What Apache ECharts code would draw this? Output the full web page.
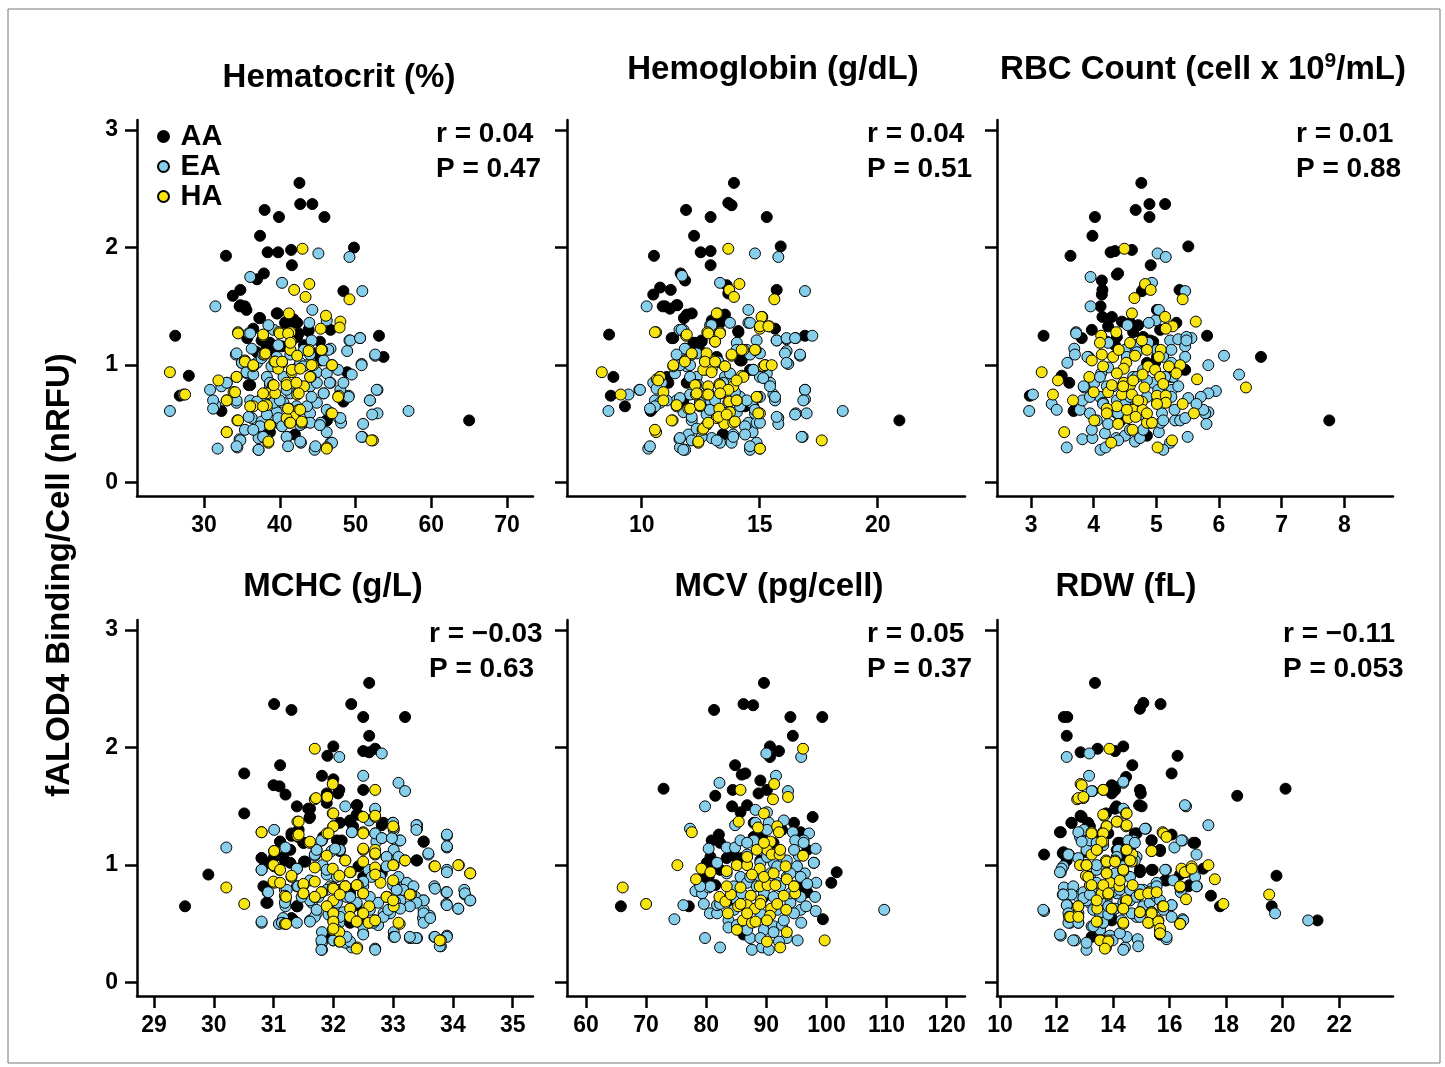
<!DOCTYPE html>
<html>
<head>
<meta charset="utf-8">
<title>fALOD4 binding vs RBC indices</title>
<script src="https://cdn.jsdelivr.net/npm/echarts@6/dist/echarts.min.js"></script>
<style>
  html, body { margin: 0; padding: 0; background: #fff; }
  #chart { width: 1445px; height: 1067px; }
</style>
</head>
<body>
<div id="chart"></div>
<script>
// y = fALOD4 binding/cell (nRFU); x = blood index, one set per panel and group

// Hematocrit (%)
var hctAA = [[42.6,2.55],[42.7,2.37],[44.3,2.37],[38.0,2.32],[39.9,2.26],[45.9,2.26],[37.4,2.10],[38.4,1.96],[39.8,1.96],[41.5,1.98],[49.8,2.00],[32.9,1.93],[41.6,1.85],[37.0,1.73],[37.9,1.78],[33.8,1.59],[34.8,1.64],[34.7,1.50],[35.4,1.50],[35.6,1.47],[48.4,1.63],[39.7,1.44],[37.3,1.40],[40.9,1.37],[41.8,1.39],[42.3,1.36],[26.2,1.25],[53.1,1.25],[53.7,1.07],[28.0,0.91],[26.8,0.74],[32.3,0.61],[65.0,0.53],[35.7,1.23],[37.6,1.21],[38.7,1.19],[39.2,1.13],[40.3,1.16],[42.3,1.24],[43.2,1.17],[43.8,1.30],[44.9,1.10],[45.4,1.04],[46.7,1.30],[48.9,0.94],[35.9,0.83],[48.4,0.69],[46.2,0.53],[42.0,0.41],[38.7,0.43],[37.0,1.11],[38.3,1.16],[40.7,1.36],
  [34.8,1.51],[37.4,1.40],[39.6,1.44],[41.6,1.37],[36.5,1.31],[38.1,1.19],[39.2,1.13],[42.5,1.27],[43.8,1.29],[45.3,1.20],[36.1,0.83],[48.4,0.70],[46.2,0.53]];
var hctEA = [[45.1,1.95],[49.2,1.92],[40.3,1.70],[36.1,1.75],[50.9,1.63],[31.5,1.50],[44.3,1.47],[43.9,1.36],[46.2,1.38],[39.2,1.30],[35.9,1.27],[49.2,1.21],[50.6,1.23],[48.9,1.12],[52.6,1.08],[50.8,1.01],[49.5,0.92],[34.2,1.09],[36.3,1.14],[44.2,1.21],[46.7,1.14],[30.8,0.79],[27.3,0.75],[25.5,0.61],[31.5,0.66],[34.3,0.68],[52.9,0.79],[51.9,0.70],[52.9,0.59],[52.2,0.58],[57.0,0.61],[51.0,0.50],[50.9,0.39],[49.1,0.74],[48.0,0.79],[47.8,0.55],[48.1,0.51],[46.2,0.43],[46.7,0.34],[44.6,0.28],[42.8,0.34],[41.0,0.39],[37.2,0.28],[31.8,0.29],[34.4,0.30],[34.7,0.37],[35.4,0.45],[37.2,0.38],[38.3,0.37],[33.0,0.85],[32.3,0.82],[31.2,0.70],[31.2,0.63],[35.7,0.93],[37.0,1.02],[38.3,0.90],[38.7,0.82],[39.2,0.99],[40.5,0.90],[41.4,0.76],[42.5,0.99],[43.4,1.00],[44.0,0.82],[44.9,0.94],[46.2,0.93],[46.7,0.85],[45.8,0.76],[44.9,0.68],[43.6,0.62],[44.0,0.59],[40.5,0.68],[39.6,0.60],[38.1,0.68],[36.3,0.55],[37.6,0.52],[39.7,0.51],[43.2,0.51],[45.4,0.51],[41.4,1.09],[39.6,1.07],[43.2,1.13],[37.6,1.06],[35.0,1.02],[36.1,0.70],
  [38.5,1.34],[36.1,1.27],[34.3,1.10],[35.0,1.02],[35.6,0.94],[36.5,0.92],[33.0,0.85],[34.3,0.70],[35.9,0.56],[37.4,0.48],[37.8,0.39],[37.2,0.28],[34.8,0.36],[34.3,0.31],[39.2,0.68],[39.8,0.55],[40.9,0.39],[42.7,0.35],[44.0,0.51],[45.3,0.49],[46.2,0.62],[48.0,0.55],[49.1,0.73],[45.8,0.76],[44.9,0.85],[46.6,0.85],[42.7,1.02],[41.4,1.13],[43.1,0.99],[44.0,1.09],[45.8,1.04],[46.4,1.13],[47.7,0.96],[48.4,0.85],[49.3,1.21],[50.6,1.23],[50.8,1.00],[52.6,1.09],[52.8,0.79],[51.9,0.70],[50.8,0.39],[38.7,0.85],[37.8,0.73],[40.0,0.70],[40.9,0.79],[42.2,0.65],[43.6,0.65],[44.2,0.73],[37.0,0.69],[38.3,0.58],[40.3,0.48],[42.7,0.49],[44.7,0.31],[46.9,0.34],[41.1,0.31],[36.5,0.45],[38.9,0.99],[37.8,1.09],[39.8,1.17]];
var hctHA = [[43.0,1.99],[43.9,1.69],[41.9,1.64],[43.4,1.58],[49.2,1.56],[41.2,1.44],[46.1,1.42],[48.0,1.37],[47.9,1.32],[45.4,1.31],[34.5,1.28],[37.8,1.25],[39.9,1.28],[41.4,1.28],[41.5,1.20],[41.4,1.13],[43.9,1.13],[45.6,1.13],[38.0,1.09],[42.3,1.08],[35.4,1.04],[36.5,0.99],[39.3,1.03],[40.3,1.02],[44.4,1.00],[46.9,1.00],[39.8,0.97],[41.6,0.94],[44.1,0.90],[25.5,0.94],[27.5,0.75],[31.9,0.87],[34.3,0.90],[33.9,0.77],[33.0,0.70],[39.1,0.83],[40.9,0.85],[42.5,0.83],[43.2,0.82],[38.3,0.76],[39.4,0.76],[42.3,0.75],[47.8,0.74],[38.3,0.66],[36.5,0.65],[41.2,0.63],[42.5,0.62],[41.8,0.56],[40.9,0.55],[46.8,0.59],[34.4,0.53],[38.7,0.49],[41.3,0.51],[42.9,0.51],[33.0,0.43],[38.5,0.34],[46.2,0.30],[52.3,0.36],
  [34.5,1.27],[37.8,1.26],[40.0,1.27],[41.1,1.27],[41.4,1.19],[43.8,1.12],[45.5,1.13],[38.1,1.10],[35.4,1.03],[36.5,1.00],[39.4,1.03],[40.3,1.03],[41.6,0.96],[42.7,0.97],[44.2,1.00],[46.9,1.00],[34.3,0.90],[39.2,0.83],[40.9,0.83],[42.2,0.85],[44.0,0.90],[34.1,0.77],[33.0,0.70],[37.8,0.76],[42.5,0.76],[36.1,0.65],[37.8,0.65],[41.1,0.63],[42.7,0.62],[34.5,0.53],[38.7,0.49],[41.4,0.51],[42.9,0.52],[46.9,0.59],[47.7,0.73],[33.0,0.43],[38.5,0.35],[46.2,0.29],[52.1,0.36]];

// Hemoglobin (g/dL)
var hgbAA = [[13.91,2.55],[13.67,2.38],[13.81,2.36],[11.88,2.32],[12.92,2.26],[15.30,2.26],[12.22,2.10],[15.89,2.01],[12.50,1.96],[12.92,1.97],[10.52,1.93],[12.92,1.85],[11.65,1.78],[11.84,1.72],[10.78,1.66],[10.49,1.60],[11.23,1.64],[10.89,1.50],[11.20,1.48],[11.51,1.51],[13.60,1.68],[13.67,1.61],[15.72,1.64],[12.12,1.44],[11.79,1.40],[15.65,1.31],[16.92,1.25],[8.62,1.26],[11.34,1.23],[8.80,0.90],[8.69,0.74],[9.29,0.65],[10.38,0.61],[20.92,0.53],[13.43,0.41],[12.19,1.19],[12.54,1.21],[13.32,1.36],[14.10,1.28],[14.24,1.04],[14.73,0.96],[13.53,0.99],[13.18,1.07],[11.91,0.85],[11.06,0.90],[15.01,1.33],[14.38,0.65],[12.97,1.38],
  [10.99,1.50],[11.48,1.51],[11.91,1.43],[13.53,1.43],[11.27,1.23],[12.26,1.19],[12.54,1.20],[12.47,1.12],[14.09,1.29],[11.98,0.86],[11.13,0.85],[10.42,0.62],[11.76,0.70],[14.59,0.96],[14.73,0.65],[13.46,0.41],[14.17,1.04]];
var hgbEA = [[14.80,1.95],[15.79,1.92],[11.71,1.76],[13.32,1.70],[16.92,1.63],[10.21,1.50],[14.52,1.47],[14.52,1.36],[12.90,1.34],[11.60,1.30],[15.72,1.21],[16.14,1.22],[16.53,1.23],[17.23,1.25],[16.14,1.12],[16.71,1.08],[16.21,1.01],[16.92,0.79],[16.92,0.71],[16.53,0.59],[16.99,0.59],[18.52,0.61],[15.79,0.55],[15.79,0.50],[16.82,0.39],[9.90,0.79],[9.44,0.75],[8.59,0.61],[10.28,0.29],[11.60,0.37],[11.62,0.30],[11.84,0.28],[11.98,0.41],[12.12,0.36],[12.97,0.38],[13.32,0.34],[13.81,0.34],[13.88,0.41],[14.70,0.43],[14.59,0.28],[14.87,0.34],[15.30,0.93],[15.44,0.85],[15.58,0.75],[15.65,0.70],[15.01,0.90],[15.01,0.73],[14.66,0.68],[14.80,0.59],[14.52,0.51],[14.87,0.51],[14.03,1.19],[14.45,1.13],[14.87,1.21],[11.41,0.93],[10.56,0.70],[10.78,0.68],[10.85,0.85],[10.49,0.85],[11.84,1.14],[12.33,1.10],[11.91,0.99],[12.33,0.90],[12.75,0.96],[13.25,1.03],[12.05,0.75],[12.47,0.68],[12.90,0.70],[13.18,0.62],[14.17,0.73],[11.48,0.70],[11.77,0.60],[12.12,0.53],[12.33,0.46],[12.75,0.58],[13.60,0.52],[14.03,0.60],[14.38,0.48],[13.95,0.77],[13.53,0.90],[11.77,1.30],
  [11.69,1.30],[12.96,1.34],[13.74,1.36],[14.59,1.36],[15.72,1.21],[16.14,1.23],[16.50,1.23],[11.83,1.14],[11.48,1.09],[11.62,1.00],[12.05,1.00],[12.05,0.90],[13.25,1.03],[14.02,1.13],[14.59,1.09],[15.01,1.10],[14.73,0.96],[15.15,0.89],[15.44,0.82],[15.65,0.73],[16.07,1.10],[16.71,1.09],[16.14,1.02],[16.92,0.79],[16.85,0.70],[15.72,0.56],[16.50,0.58],[16.78,0.39],[10.63,0.80],[10.56,0.65],[11.06,0.70],[11.62,0.72],[12.12,0.56],[12.47,0.68],[12.89,0.62],[13.11,0.70],[13.67,0.68],[14.17,0.65],[14.45,0.70],[14.80,0.62],[15.01,0.51],[14.38,0.41],[13.88,0.39],[13.18,0.36],[12.54,0.39],[11.62,0.38],[11.76,0.28],[10.35,0.31],[14.59,0.31],[12.40,0.83],[12.82,0.77],[13.46,0.85],[13.74,0.93],[9.93,0.79],[10.35,0.63]];
var hgbHA = [[13.67,1.99],[14.14,1.69],[13.71,1.64],[13.91,1.58],[15.62,1.56],[13.21,1.44],[15.11,1.41],[15.41,1.33],[15.01,1.31],[10.61,1.28],[11.88,1.25],[12.78,1.28],[13.32,1.28],[13.11,1.20],[14.31,1.13],[14.83,1.13],[12.12,1.09],[13.81,1.08],[12.68,1.03],[13.04,1.04],[11.34,0.99],[11.84,1.04],[15.16,0.99],[15.23,1.00],[12.97,0.97],[12.61,0.96],[14.24,0.91],[8.31,0.94],[9.11,0.75],[10.64,0.88],[10.78,0.90],[10.92,0.77],[10.92,0.70],[12.30,0.83],[12.82,0.82],[13.29,0.84],[13.88,0.82],[12.30,0.75],[12.75,0.75],[13.36,0.76],[13.71,0.69],[14.03,0.70],[14.90,0.73],[11.48,0.65],[11.98,0.63],[12.47,0.65],[13.29,0.63],[13.74,0.60],[13.60,0.55],[13.18,0.55],[15.01,0.59],[11.31,0.53],[12.58,0.45],[12.75,0.49],[13.50,0.50],[13.88,0.51],[10.61,0.43],[12.40,0.34],[15.01,0.29],[17.63,0.36],
  [13.18,1.44],[15.08,1.41],[15.01,1.33],[15.37,1.33],[10.56,1.28],[11.91,1.26],[12.82,1.27],[13.32,1.27],[13.11,1.20],[12.12,1.10],[12.75,1.10],[13.81,1.09],[14.24,1.13],[14.80,1.13],[11.83,1.03],[11.34,1.00],[12.68,1.03],[13.11,1.03],[13.53,0.99],[12.96,0.94],[15.22,1.00],[15.51,1.00],[10.78,0.90],[10.70,0.87],[14.31,0.90],[14.02,0.87],[12.26,0.83],[13.32,0.83],[13.67,0.79],[12.33,0.76],[12.82,0.75],[13.32,0.76],[14.02,0.70],[14.87,0.73],[11.48,0.66],[12.05,0.63],[12.47,0.66],[13.25,0.56],[13.60,0.58],[13.95,0.52],[14.94,0.59],[11.27,0.53],[12.61,0.46],[12.82,0.51],[10.56,0.45],[12.40,0.35],[15.01,0.29]];

// RBC count (cell x 10^9/mL)
var rbcAA = [[4.76,2.55],[4.89,2.37],[5.14,2.37],[4.67,2.32],[4.89,2.26],[4.02,2.26],[3.98,2.10],[5.51,2.01],[4.27,1.96],[4.34,1.97],[4.61,1.98],[3.63,1.93],[4.91,1.85],[4.37,1.77],[4.39,1.78],[4.13,1.72],[4.14,1.64],[4.13,1.60],[4.77,1.63],[4.80,1.65],[5.37,1.64],[4.11,1.50],[4.14,1.41],[4.29,1.41],[4.45,1.37],[4.71,1.34],[3.97,1.30],[3.20,1.25],[3.81,1.23],[5.81,1.25],[6.67,1.07],[4.21,1.20],[4.34,1.17],[4.63,1.28],[4.79,1.24],[4.95,1.20],[5.06,1.30],[5.01,1.07],[4.85,1.02],[5.11,0.87],[5.38,0.96],[5.46,0.96],[3.49,0.91],[3.61,0.85],[2.98,0.74],[3.68,0.61],[7.76,0.53],[4.85,0.40],[4.42,0.52],
  [4.23,1.33],[4.58,1.36],[4.90,1.21],[4.85,1.16],[4.37,1.24],[5.01,1.47],[5.32,1.36],[5.24,0.90],[4.98,1.02]];
var rbcEA = [[5.02,1.95],[5.15,1.92],[3.95,1.75],[4.93,1.70],[5.46,1.63],[3.95,1.50],[5.04,1.47],[4.99,1.38],[4.54,1.34],[4.88,1.36],[3.72,1.28],[5.22,1.21],[5.35,1.22],[5.46,1.16],[5.56,1.23],[5.48,1.24],[3.69,1.14],[3.70,1.09],[3.58,1.02],[3.92,1.07],[4.23,0.98],[4.50,1.13],[4.66,1.17],[5.01,1.13],[5.11,1.07],[6.08,1.08],[5.83,1.00],[6.32,0.92],[5.95,0.78],[5.83,0.76],[5.71,0.73],[5.51,0.72],[5.83,0.60],[5.78,0.59],[5.80,0.50],[5.50,0.39],[3.03,0.75],[2.97,0.61],[3.33,0.67],[3.41,0.62],[3.57,0.30],[3.82,0.37],[3.98,0.38],[4.11,0.28],[4.19,0.30],[3.97,0.45],[4.18,0.42],[4.36,0.38],[4.50,0.40],[4.66,0.35],[4.74,0.38],[5.04,0.43],[5.07,0.51],[5.22,0.34],[5.11,0.28],[3.78,0.62],[3.82,0.70],[3.85,0.81],[4.01,0.85],[4.12,0.93],[4.10,0.73],[4.15,0.68],[4.31,0.82],[4.37,0.70],[4.53,0.68],[4.37,0.59],[4.05,0.53],[4.63,0.90],[4.79,0.96],[4.95,0.85],[5.11,0.80],[5.25,0.79],[4.85,0.73],[5.01,0.68],[5.09,0.59],[4.90,0.51],[4.74,0.58],[5.30,0.53],[5.38,0.53],[5.46,0.55],[5.27,0.90],
  [3.72,1.27],[3.90,1.07],[3.84,0.82],[3.94,0.73],[4.10,0.90],[4.21,0.82],[4.15,0.67],[3.94,0.59],[4.23,0.50],[4.39,0.59],[4.50,0.67],[4.58,0.73],[4.69,0.90],[4.85,0.87],[5.03,0.79],[5.14,0.90],[5.24,0.73],[5.35,0.82],[5.29,0.62],[5.11,0.53],[4.79,0.45],[4.58,0.45],[4.39,0.36],[4.69,1.11],[4.87,1.19],[5.24,1.13],[5.48,1.21],[5.46,1.07],[5.24,1.02],[4.53,1.07],[4.23,1.19],[5.75,0.62],[5.64,0.67]];
var rbcHA = [[4.49,1.99],[4.82,1.69],[4.91,1.64],[4.65,1.57],[5.42,1.56],[4.61,1.44],[5.14,1.41],[5.63,1.37],[5.26,1.33],[5.15,1.31],[4.12,1.25],[4.36,1.28],[4.58,1.19],[4.85,1.13],[5.07,1.13],[4.13,1.09],[4.31,1.07],[4.66,1.08],[3.97,1.04],[4.52,1.02],[4.48,0.97],[4.87,0.99],[4.98,0.96],[5.20,0.99],[5.38,1.00],[4.78,0.92],[5.06,0.90],[3.17,0.94],[3.43,0.87],[3.93,0.90],[5.65,0.88],[6.43,0.81],[3.35,0.75],[3.67,0.70],[4.00,0.77],[4.23,0.77],[4.29,0.83],[4.48,0.85],[4.58,0.83],[4.81,0.81],[4.45,0.75],[4.61,0.75],[4.77,0.69],[5.01,0.74],[5.15,0.74],[4.37,0.65],[4.21,0.63],[4.63,0.62],[4.78,0.62],[5.15,0.68],[5.42,0.67],[5.60,0.59],[4.01,0.53],[4.55,0.55],[4.67,0.56],[4.85,0.51],[4.93,0.51],[4.39,0.50],[4.62,0.45],[3.53,0.43],[4.28,0.34],[5.25,0.36],[5.02,0.30],
  [4.15,0.99],[4.37,0.93],[4.63,0.87],[4.47,0.82],[4.71,0.70],[5.01,0.67],[5.11,0.84],[5.32,0.93],[4.53,0.62],[4.85,0.59],[4.21,0.59],[4.77,1.21],[5.04,1.07],[4.40,1.13],[4.10,1.19]];

// MCHC (g/L)
var mchcAA = [[32.60,2.55],[31.01,2.37],[31.30,2.32],[32.30,2.37],[32.50,2.26],[33.20,2.26],[32.60,2.10],[32.00,2.01],[31.90,1.93],[32.50,1.97],[32.60,1.96],[32.70,1.99],[31.11,1.85],[30.51,1.78],[31.81,1.76],[31.00,1.68],[31.10,1.67],[31.20,1.60],[32.00,1.73],[32.10,1.64],[32.50,1.64],[31.89,1.61],[30.51,1.44],[31.39,1.50],[31.61,1.48],[31.60,1.40],[32.40,1.51],[32.42,1.43],[32.28,1.37],[32.11,1.36],[31.30,1.25],[31.42,1.30],[31.11,1.20],[31.50,1.19],[31.83,1.24],[32.06,1.21],[31.72,1.13],[32.81,1.34],[33.40,1.31],[33.51,1.20],[33.40,1.04],[30.80,1.06],[31.01,1.07],[31.19,1.04],[31.28,1.02],[31.51,1.03],[29.91,0.92],[30.87,0.81],[30.90,0.68],[29.52,0.65],[31.40,0.65],[31.32,0.54],[32.42,0.99],[32.50,0.90],[32.73,0.96],[32.28,0.76],[32.28,0.51],[31.95,0.39],
  [31.58,1.48],[31.61,1.41],[31.89,1.53],[32.08,1.61],[32.39,1.51],[32.39,1.43],[32.28,1.38],[32.33,1.33],[31.41,1.24],[31.30,1.27],[31.11,1.20],[31.28,1.13],[31.16,1.07],[31.50,1.19],[31.53,1.03],[32.14,1.21],[32.11,1.12],[32.84,1.36],[30.80,1.06],[30.91,1.02],[30.83,0.82],[30.88,0.68],[31.39,0.65],[31.30,0.55],[32.81,0.93],[33.39,1.04],[33.51,1.20],[32.39,0.66],[32.00,0.39]];
var mchcEA = [[32.10,1.92],[32.81,1.95],[32.50,1.76],[33.09,1.70],[33.20,1.63],[32.20,1.50],[32.70,1.47],[32.60,1.38],[32.99,1.36],[33.01,1.30],[33.40,1.34],[31.01,1.30],[32.31,1.28],[32.81,1.23],[32.70,1.27],[32.72,1.20],[33.11,1.21],[33.90,1.25],[33.90,1.15],[33.59,1.09],[33.01,1.13],[33.09,1.07],[32.89,1.07],[30.21,1.15],[31.20,1.15],[31.81,1.21],[31.69,1.08],[32.11,1.13],[30.80,0.96],[31.39,0.97],[31.82,1.00],[31.89,0.92],[32.06,0.90],[33.90,0.96],[33.90,0.94],[33.89,0.77],[33.69,0.82],[34.19,0.79],[34.20,0.75],[34.29,0.70],[34.09,0.63],[33.89,0.67],[33.51,0.70],[33.51,0.62],[33.50,0.55],[33.61,0.57],[33.28,0.82],[33.20,0.84],[33.37,0.73],[33.12,0.70],[33.01,0.68],[32.89,0.73],[32.75,0.68],[32.84,0.59],[32.61,0.62],[32.50,0.49],[32.50,0.42],[32.75,0.49],[33.01,0.43],[33.01,0.39],[33.28,0.38],[33.40,0.38],[33.69,0.39],[33.90,0.40],[33.80,0.31],[32.70,0.29],[32.31,0.30],[31.81,0.43],[31.81,0.34],[31.81,0.28],[32.00,0.36],[32.20,0.34],[31.61,0.53],[31.72,0.59],[31.64,0.68],[32.10,0.51],[32.17,0.60],[32.06,0.68],[32.22,0.73],[30.80,0.51],[31.09,0.50],[30.90,0.77],[31.19,0.79],[31.20,0.70],[31.20,0.65],[31.39,0.82],[31.61,0.87],[31.95,0.82],[32.50,0.82],[32.61,0.73],[32.39,0.68],
  [32.70,1.48],[32.31,1.28],[32.70,1.27],[32.81,1.23],[33.00,1.36],[33.12,1.21],[32.98,1.23],[33.39,1.34],[33.39,1.30],[33.90,1.26],[33.90,1.16],[33.59,1.10],[31.80,1.21],[32.11,1.13],[31.97,1.12],[31.69,1.09],[31.39,0.97],[31.89,0.96],[32.59,0.96],[32.64,0.90],[32.50,0.86],[32.89,1.07],[32.89,0.99],[32.78,0.90],[33.09,0.90],[33.00,0.83],[33.23,0.85],[33.34,0.82],[33.17,0.79],[33.51,0.70],[33.39,0.68],[33.28,0.65],[33.70,0.80],[33.90,0.77],[33.90,0.66],[34.20,0.76],[34.29,0.70],[34.09,0.63],[33.51,0.59],[33.51,0.51],[33.62,0.55],[33.03,0.69],[33.12,0.63],[32.95,0.59],[32.84,0.56],[32.67,0.51],[32.50,0.48],[32.50,0.41],[33.03,0.39],[33.31,0.38],[33.39,0.38],[33.70,0.39],[33.90,0.39],[33.78,0.31],[32.70,0.28],[32.28,0.35],[32.22,0.39],[31.80,0.36],[31.80,0.28],[32.00,0.36],[32.06,0.45],[31.69,0.56],[31.72,0.62],[31.92,0.58],[32.11,0.56],[31.61,0.70],[31.75,0.73],[31.89,0.79],[32.11,0.79],[32.28,0.73],[32.20,0.82],[31.41,0.82],[31.47,0.73],[31.22,0.79],[31.19,0.68],[31.16,0.55],[30.80,0.96],[30.91,0.77],[30.80,0.52],[31.14,0.51],[31.72,1.13],[32.03,1.14],[32.92,0.62],[33.06,0.79],[31.39,0.51],[31.61,0.52],[33.28,0.39]];
var mchcHA = [[31.69,1.99],[31.99,1.69],[32.70,1.64],[31.69,1.56],[31.89,1.58],[31.99,1.44],[32.70,1.41],[31.40,1.37],[32.00,1.33],[32.50,1.28],[33.01,1.32],[30.80,1.28],[31.40,1.25],[31.60,1.19],[31.89,1.27],[31.01,1.12],[31.89,1.08],[32.20,1.04],[32.50,1.13],[32.70,1.13],[32.70,1.09],[33.20,1.04],[31.01,0.99],[31.10,0.96],[31.69,0.98],[31.99,0.97],[32.70,0.97],[33.01,1.00],[33.69,0.99],[34.10,1.00],[34.29,0.93],[31.30,0.90],[32.10,0.91],[32.29,0.94],[32.79,0.85],[30.21,0.81],[30.51,0.67],[31.01,0.85],[31.50,0.83],[31.50,0.76],[31.81,0.77],[31.99,0.81],[32.20,0.82],[32.10,0.75],[32.41,0.83],[32.50,0.76],[32.90,0.73],[33.01,0.65],[33.30,0.75],[31.19,0.74],[31.69,0.73],[31.90,0.65],[32.00,0.59],[32.00,0.53],[32.29,0.63],[32.50,0.59],[32.60,0.65],[32.40,0.52],[32.60,0.51],[32.70,0.53],[33.11,0.50],[31.19,0.50],[31.99,0.45],[32.10,0.43],[32.10,0.35],[32.40,0.30],[33.80,0.36],
  [31.71,1.57],[31.90,1.58],[32.00,1.44],[32.50,1.41],[31.42,1.37],[31.42,1.26],[32.00,1.33],[32.70,1.42],[33.00,1.33],[30.80,1.28],[31.61,1.20],[31.92,1.27],[31.01,1.12],[32.50,1.27],[32.50,1.14],[32.70,1.10],[31.00,1.00],[31.11,0.96],[31.30,0.91],[32.20,1.04],[32.28,0.94],[32.50,1.03],[32.70,0.98],[32.70,0.92],[33.00,1.00],[33.00,0.87],[33.20,1.04],[33.70,0.99],[34.09,1.00],[34.29,0.93],[31.00,0.86],[31.11,0.85],[31.50,0.84],[31.69,0.86],[31.50,0.76],[31.80,0.77],[32.00,0.80],[32.00,0.70],[32.20,0.82],[32.11,0.75],[32.39,0.83],[32.50,0.76],[32.89,0.73],[33.00,0.70],[33.28,0.75],[31.21,0.73],[31.69,0.73],[31.89,0.65],[32.00,0.59],[32.00,0.52],[32.28,0.63],[32.28,0.56],[32.50,0.59],[32.39,0.52],[32.59,0.51],[32.70,0.53],[32.00,0.46],[32.11,0.35],[33.09,0.51],[31.21,0.50],[32.39,0.29],[33.78,0.36]];

// MCV (pg/cell)
var mcvAA = [[89.6,2.55],[86.2,2.37],[87.8,2.36],[81.3,2.32],[94.0,2.26],[99.3,2.26],[94.4,2.10],[90.6,2.01],[92.1,1.97],[90.6,1.92],[84.8,1.85],[85.9,1.77],[86.5,1.78],[89.0,1.72],[72.9,1.65],[81.5,1.59],[84.4,1.64],[88.7,1.61],[90.1,1.64],[84.3,1.50],[85.7,1.45],[86.8,1.51],[97.7,1.41],[94.6,1.36],[95.7,1.28],[82.1,1.26],[80.9,1.21],[80.7,1.07],[81.2,1.02],[83.4,1.06],[84.6,1.08],[85.9,1.06],[87.9,1.24],[89.3,1.23],[91.2,1.19],[92.6,1.30],[101.7,0.94],[100.8,0.85],[77.1,0.65],[65.8,0.65],[80.4,0.90],[81.5,0.83],[96.8,0.77],[95.7,0.82],[99.4,0.54],[86.2,0.41],[84.6,0.68],[89.6,0.73],
  [82.3,1.19],[84.6,1.13],[80.1,1.02],[79.6,0.90],[96.8,1.13],[97.9,1.02],[96.2,0.76],[87.9,1.36],[89.0,1.04],[82.3,0.96]];
var mcvEA = [[90.0,1.95],[95.8,1.92],[91.6,1.76],[82.2,1.70],[93.6,1.63],[79.8,1.50],[88.2,1.47],[90.1,1.45],[90.4,1.36],[92.9,1.38],[84.8,1.34],[77.3,1.31],[94.4,1.28],[97.1,1.27],[96.2,1.21],[94.8,1.21],[98.2,1.14],[95.4,1.08],[97.9,1.02],[96.4,0.93],[98.3,0.85],[98.1,0.73],[98.2,0.61],[95.8,0.51],[95.2,0.36],[109.6,0.62],[80.4,1.14],[83.4,1.15],[84.8,1.15],[85.7,1.21],[87.9,1.21],[78.2,0.78],[79.3,0.76],[80.4,0.81],[76.2,0.66],[74.7,0.54],[79.8,0.38],[82.3,0.30],[80.6,0.59],[81.8,0.59],[81.8,0.66],[83.7,0.53],[83.7,0.47],[85.1,0.49],[86.8,0.52],[87.3,0.38],[87.6,0.28],[89.3,0.30],[90.4,0.28],[89.6,0.45],[91.2,0.48],[92.6,0.49],[93.4,0.38],[92.1,0.35],[85.7,0.90],[86.8,0.85],[89.0,0.90],[90.7,0.93],[91.8,0.85],[93.4,0.90],[94.6,0.82],[85.1,0.70],[86.8,0.65],[89.0,0.59],[91.8,0.62],[94.0,0.68],[95.7,0.62],[86.8,1.09],[89.0,1.02],[91.2,1.02],[93.4,1.04],[95.1,0.99],
  [81.8,1.02],[83.4,0.93],[84.6,0.82],[85.9,0.76],[87.3,0.90],[88.4,0.82],[89.6,0.76],[91.2,0.73],[92.3,0.82],[94.0,0.76],[95.7,0.73],[96.6,0.65],[94.6,0.59],[92.9,0.53],[91.2,0.43],[89.0,0.38],[86.8,0.45],[84.6,0.62],[82.3,0.67],[80.7,0.82],[79.0,0.82],[79.6,0.67],[86.8,1.19],[89.0,1.13],[90.1,1.07],[91.8,0.99],[94.0,0.93],[95.7,0.90],[96.8,0.84],[90.1,1.30],[88.2,1.36],[94.6,1.13],[96.2,1.19]];
var mcvHA = [[96.1,1.99],[91.3,1.69],[85.7,1.64],[91.1,1.56],[93.6,1.58],[89.6,1.44],[85.4,1.37],[88.6,1.32],[91.8,1.33],[92.1,1.28],[77.6,1.28],[90.7,1.20],[90.1,1.13],[88.4,1.13],[90.9,1.09],[92.2,1.09],[96.1,1.08],[75.2,1.00],[79.2,0.97],[80.7,0.94],[78.3,0.88],[83.4,0.95],[85.1,1.00],[86.8,1.00],[88.9,0.97],[87.6,0.92],[93.2,0.99],[93.4,0.88],[66.1,0.81],[70.0,0.67],[82.2,0.73],[83.2,0.69],[84.1,0.75],[85.7,0.81],[87.4,0.74],[88.9,0.82],[90.2,0.83],[91.5,0.83],[92.9,0.74],[94.8,0.76],[85.3,0.65],[86.8,0.66],[88.1,0.63],[89.1,0.70],[90.8,0.63],[93.3,0.62],[83.6,0.59],[86.1,0.53],[87.6,0.51],[88.2,0.52],[90.6,0.57],[85.1,0.45],[93.4,0.43],[90.1,0.35],[92.3,0.30],[99.7,0.36],
  [86.8,1.07],[89.6,0.90],[91.2,0.93],[85.7,0.67],[89.0,0.67],[91.8,0.67],[90.1,0.53],[86.8,0.59],[94.6,0.82],[83.4,0.82],[89.6,1.19],[92.3,1.13]];

// RDW (fL)
var rdwAA = [[13.36,2.55],[12.26,2.26],[12.38,2.26],[12.36,2.10],[14.95,2.33],[15.07,2.38],[15.68,2.37],[12.85,1.96],[13.45,1.99],[14.07,1.97],[14.36,2.01],[16.28,1.93],[14.68,1.85],[16.07,1.78],[14.46,1.75],[13.95,1.68],[14.07,1.64],[14.95,1.64],[14.98,1.61],[18.39,1.59],[20.10,1.65],[14.92,1.51],[15.01,1.50],[14.07,1.48],[12.85,1.42],[12.53,1.36],[12.15,1.28],[13.75,1.44],[13.12,1.36],[14.83,1.27],[15.36,1.21],[15.66,1.12],[16.07,1.26],[16.90,1.19],[11.56,1.09],[12.22,1.10],[14.18,1.19],[14.30,1.07],[14.60,1.13],[14.95,0.94],[15.40,0.96],[15.89,0.87],[16.37,0.92],[16.70,0.83],[17.19,0.97],[17.46,0.74],[17.78,0.65],[19.78,0.91],[19.61,0.65],[21.23,0.53],[13.95,0.53],[15.66,0.41],[13.24,0.39],[13.06,1.19],[13.42,1.24],
  [14.01,1.67],[13.95,1.61],[14.12,1.50],[12.89,1.41],[12.53,1.36],[12.12,1.28],[13.18,1.33],[12.24,1.11],[12.36,1.04],[13.06,1.20],[13.06,1.11],[13.83,1.27],[14.24,1.19],[14.13,1.13],[14.18,1.04],[14.77,1.27],[15.36,1.21],[15.66,1.13],[14.95,0.96],[15.36,0.96],[15.84,0.87],[16.84,1.19],[16.66,0.82],[13.95,0.55],[15.66,0.41]];
var rdwEA = [[12.36,1.92],[13.16,1.95],[13.15,1.76],[13.27,1.63],[14.36,1.70],[14.39,1.47],[16.58,1.50],[17.37,1.34],[15.16,1.31],[16.46,1.21],[16.17,1.15],[12.83,1.24],[12.97,1.30],[12.44,1.09],[12.24,0.99],[12.15,0.94],[13.06,1.13],[15.87,0.96],[16.96,0.82],[16.39,0.77],[11.56,0.61],[12.15,0.40],[12.65,0.36],[13.06,0.28],[14.42,0.30],[14.36,0.28],[14.87,0.37],[13.89,0.40],[13.98,0.36],[15.89,0.37],[16.46,0.54],[19.73,0.59],[20.90,0.53],[12.26,0.81],[12.53,0.77],[12.77,0.73],[12.95,0.77],[12.22,0.75],[12.38,0.66],[12.48,0.51],[12.77,0.51],[13.18,0.68],[13.30,0.62],[13.06,0.70],[13.54,0.59],[13.24,0.48],[13.54,0.45],[13.65,0.51],[13.77,0.70],[14.13,0.76],[14.36,0.68],[14.60,0.70],[14.83,0.56],[15.07,0.65],[15.30,0.68],[15.54,0.73],[15.78,0.62],[16.07,0.66],[13.18,0.90],[13.42,0.96],[13.77,1.02],[14.07,0.93],[14.36,0.99],[14.60,0.90],[14.83,1.07],[14.18,1.13],[14.72,1.21],[15.54,0.85],[15.36,0.80],[15.07,0.79],[13.77,1.33],[13.18,1.21],[13.65,1.17],
  [13.24,1.63],[14.36,1.71],[14.36,1.48],[15.13,1.31],[16.54,1.51],[16.42,1.21],[12.77,1.28],[12.89,1.20],[13.42,1.19],[14.54,1.21],[14.77,1.19],[12.42,1.09],[12.77,1.06],[12.18,0.97],[12.12,0.94],[13.42,1.00],[14.13,1.07],[14.77,1.04],[15.84,0.96],[16.13,0.87],[16.90,0.90],[16.95,0.82],[12.59,0.82],[12.53,0.75],[12.24,0.75],[12.95,0.72],[13.24,0.80],[12.36,0.66],[12.42,0.59],[12.42,0.51],[12.77,0.51],[12.77,0.59],[13.18,0.75],[13.42,0.85],[13.95,0.77],[14.24,0.79],[14.60,0.79],[14.83,0.73],[14.96,0.79],[15.36,0.76],[15.66,0.70],[16.07,0.66],[15.54,0.82],[14.66,0.59],[14.95,0.56],[15.36,0.60],[15.89,0.39],[14.48,0.39],[14.24,0.42],[13.65,0.51],[13.30,0.48],[12.59,0.36],[13.06,0.34],[12.12,0.41],[11.53,0.62],[14.07,0.63],[13.83,0.58],[13.54,0.70],[13.83,0.65],[14.30,0.53],[14.89,0.31],[16.07,0.56],[16.48,0.53],[16.95,1.09]];
var rdwHA = [[13.87,1.99],[12.85,1.69],[13.65,1.64],[12.73,1.56],[12.95,1.57],[13.68,1.42],[14.46,1.44],[14.16,1.37],[14.46,1.33],[13.24,1.28],[13.65,1.28],[15.75,1.28],[15.87,1.25],[13.65,1.20],[13.44,1.13],[15.36,1.12],[13.24,1.09],[13.75,1.04],[14.07,1.04],[14.46,1.13],[14.68,1.09],[14.66,1.03],[12.83,1.00],[13.06,1.00],[13.77,0.93],[14.36,0.95],[13.04,0.91],[13.18,0.83],[13.89,0.85],[14.22,0.82],[14.69,0.83],[16.42,0.97],[16.58,0.94],[16.78,0.99],[17.37,1.00],[17.60,0.88],[16.37,0.81],[16.58,0.71],[17.90,0.67],[19.52,0.75],[13.60,0.76],[13.83,0.75],[14.95,0.75],[15.28,0.77],[12.77,0.65],[13.44,0.63],[13.95,0.63],[14.36,0.63],[14.45,0.69],[15.75,0.65],[14.95,0.60],[15.36,0.60],[12.44,0.56],[12.75,0.57],[13.44,0.52],[14.36,0.50],[15.28,0.51],[15.60,0.53],[15.66,0.45],[16.37,0.50],[13.57,0.36],[13.83,0.36],[13.75,0.30],
  [12.89,1.68],[12.77,1.57],[12.95,1.58],[13.65,1.64],[13.65,1.43],[14.48,1.44],[14.13,1.37],[14.48,1.34],[13.77,1.33],[13.24,1.27],[13.65,1.27],[15.78,1.27],[15.89,1.24],[13.59,1.20],[13.42,1.13],[15.36,1.12],[14.48,1.13],[13.06,1.00],[13.77,1.03],[14.07,1.03],[14.60,1.04],[14.36,0.96],[13.12,0.90],[13.77,0.93],[14.24,0.87],[13.24,0.83],[13.65,0.83],[13.83,0.76],[13.42,0.70],[14.48,0.70],[14.95,0.75],[15.24,0.76],[15.54,0.77],[12.77,0.65],[13.95,0.63],[14.36,0.63],[14.95,0.60],[15.36,0.59],[15.78,0.65],[12.48,0.56],[12.77,0.56],[13.42,0.52],[14.36,0.51],[15.24,0.51],[15.60,0.52],[15.66,0.46],[15.66,0.42],[16.37,0.50],[13.54,0.36],[13.83,0.35],[13.71,0.29],[16.37,0.82],[16.54,0.94],[16.78,0.97]];

// tick labels
var yTicks = [0, 1, 2, 3];
var hctTicks = [30, 40, 50, 60, 70];
var hgbTicks = [10, 15, 20];
var rbcTicks = [3, 4, 5, 6, 7, 8];
var mchcTicks = [29, 30, 31, 32, 33, 34, 35];
var mcvTicks = [60, 70, 80, 90, 100, 110, 120];
var rdwTicks = [10, 12, 14, 16, 18, 20, 22];

var groupNames = ['AA', 'EA', 'HA'];
var groupColors = ['#000000', '#87ceeb', '#f7e411'];

var FONT = 'Liberation Sans, Arial, Helvetica, sans-serif';

// panel layout (pixels) and axis ranges
var panels = [
  { data: [hctAA, hctEA, hctHA], ticks: hctTicks, min: 21.155, max: 73.43,
    grid: { left: 137, top: 120, width: 396, height: 376 },
    title: 'Hematocrit (%)', tx: 339, ty: 78,
    r: 'r = 0.04', p: 'P = 0.47', sx: 436, sy: 134 },
  { data: [hgbAA, hgbEA, hgbHA], ticks: hgbTicks, min: 6.835, max: 23.70,
    grid: { left: 567, top: 120, width: 398, height: 376 },
    title: 'Hemoglobin (g/dL)', tx: 773, ty: 70,
    r: 'r = 0.04', p: 'P = 0.51', sx: 867, sy: 134 },
  { data: [rbcAA, rbcEA, rbcHA], ticks: rbcTicks, min: 2.457, max: 8.777,
    grid: { left: 997, top: 120, width: 396, height: 376 },
    title: '{a|RBC Count (cell x 10}{s|9}{a|/mL)}', tx: 1203, ty: 70,
    r: 'r = 0.01', p: 'P = 0.88', sx: 1296, sy: 134 },
  { data: [mchcAA, mchcEA, mchcHA], ticks: mchcTicks, min: 28.716, max: 35.34,
    grid: { left: 137, top: 620, width: 396, height: 376 },
    title: 'MCHC (g/L)', tx: 333, ty: 587,
    r: 'r = \u22120.03', p: 'P = 0.63', sx: 429, sy: 634 },
  { data: [mcvAA, mcvEA, mcvHA], ticks: mcvTicks, min: 56.84, max: 123.04,
    grid: { left: 567, top: 620, width: 398, height: 376 },
    title: 'MCV (pg/cell)', tx: 779, ty: 587,
    r: 'r = 0.05', p: 'P = 0.37', sx: 867, sy: 634 },
  { data: [rdwAA, rdwEA, rdwHA], ticks: rdwTicks, min: 9.894, max: 23.90,
    grid: { left: 997, top: 620, width: 396, height: 376 },
    title: 'RDW (fL)', tx: 1126, ty: 587,
    r: 'r = \u22120.11', p: 'P = 0.053', sx: 1283, sy: 634 }
];

var axisLineStyle = { color: '#000', width: 2.5 };
var labelStyle = { fontSize: 23, fontWeight: 'bold', color: '#000', fontFamily: FONT };

var grids = [], xAxes = [], yAxes = [], series = [], graphics = [];

panels.forEach(function (p, i) {
  grids.push(Object.assign({ outerBoundsMode: 'none', containLabel: false }, p.grid));
  xAxes.push({
    type: 'value', gridIndex: i, min: p.min, max: p.max,
    axisLine: { show: true, onZero: false, lineStyle: axisLineStyle },
    axisTick: { show: true, inside: false, length: 12, customValues: p.ticks, lineStyle: axisLineStyle },
    axisLabel: Object.assign({ show: true, margin: 18, customValues: p.ticks }, labelStyle),
    splitLine: { show: false }
  });
  yAxes.push({
    type: 'value', gridIndex: i, min: -0.113, max: 3.085,
    axisLine: { show: true, onZero: false, lineStyle: axisLineStyle },
    axisTick: { show: true, inside: false, length: 12, customValues: yTicks, lineStyle: axisLineStyle },
    axisLabel: Object.assign({ show: i === 0 || i === 3, margin: 19, customValues: yTicks }, labelStyle),
    splitLine: { show: false }
  });
  groupNames.forEach(function (name, k) {
    series.push({
      type: 'scatter', name: name, xAxisIndex: i, yAxisIndex: i,
      data: p.data[k], symbol: 'circle', symbolSize: 11,
      itemStyle: { color: groupColors[k], borderColor: '#000', borderWidth: 1, opacity: 1 },
      emphasis: { disabled: true }
    });
  });

  // panel title
  graphics.push({
    type: 'text', x: p.tx, y: p.ty,
    style: {
      text: p.title, align: 'center', verticalAlign: 'middle',
      font: 'bold 33px ' + FONT, fill: '#000',
      rich: {
        a: { fontSize: 33, fontWeight: 'bold', fontFamily: FONT, fill: '#000', lineHeight: 38 },
        s: { fontSize: 21, fontWeight: 'bold', fontFamily: FONT, fill: '#000', verticalAlign: 'top', lineHeight: 20 }
      }
    }
  });
  // correlation stats
  graphics.push({
    type: 'text', x: p.sx, y: p.sy,
    style: { text: p.r, align: 'left', verticalAlign: 'middle', font: 'bold 28px ' + FONT, fill: '#000' }
  });
  graphics.push({
    type: 'text', x: p.sx, y: p.sy + 35,
    style: { text: p.p, align: 'left', verticalAlign: 'middle', font: 'bold 28px ' + FONT, fill: '#000' }
  });
});

// shared y-axis title
graphics.push({
  type: 'text', x: 60, y: 575, rotation: Math.PI / 2,
  style: { text: 'fALOD4 Binding/Cell (nRFU)', align: 'center', verticalAlign: 'middle',
           font: 'bold 33px ' + FONT, fill: '#000' }
});
// outer frame
graphics.push({
  type: 'rect', z: -10,
  shape: { x: 8, y: 9, width: 1432, height: 1054 },
  style: { fill: 'none', stroke: '#777', lineWidth: 1 }
});

var myChart = echarts.init(document.getElementById('chart'));
myChart.setOption({
  animation: false,
  backgroundColor: '#fff',
  legend: {
    data: groupNames, left: 157, top: 122, orient: 'vertical',
    itemWidth: 24, itemHeight: 11, itemGap: 1, padding: 0,
    selectedMode: false,
    textStyle: { fontSize: 29, fontWeight: 'bold', color: '#000', fontFamily: FONT, lineHeight: 29 }
  },
  grid: grids,
  xAxis: xAxes,
  yAxis: yAxes,
  series: series,
  graphic: graphics
});
</script>
</body>
</html>
